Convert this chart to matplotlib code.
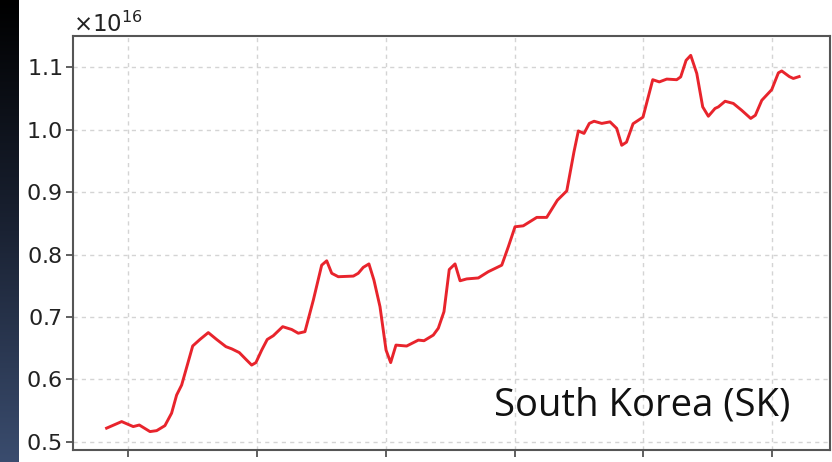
import numpy as np
import matplotlib
matplotlib.use("Agg")
import matplotlib.pyplot as plt
from matplotlib.colors import LinearSegmentedColormap

# time (in tick units) and value (x1e16)
t = [-0.169, -0.052, 0.038, 0.085, 0.168, 0.220, 0.284, 0.336, 0.375, 0.414,
     0.458, 0.500, 0.556, 0.621, 0.686, 0.758, 0.803, 0.862, 0.919, 0.958,
     0.991, 1.036, 1.079, 1.126, 1.199, 1.269, 1.320, 1.372, 1.437, 1.502,
     1.541, 1.580, 1.631, 1.748, 1.786, 1.825, 1.869, 1.908, 1.955, 2.002,
     2.038, 2.079, 2.162, 2.253, 2.297, 2.369, 2.408, 2.452, 2.493, 2.538,
     2.577, 2.629, 2.719, 2.796, 2.901, 2.952, 3.004, 3.068, 3.173, 3.250,
     3.333, 3.406, 3.462, 3.496, 3.540, 3.581, 3.618, 3.678, 3.742, 3.794,
     3.833, 3.870, 3.921, 3.998, 4.074, 4.125, 4.183, 4.260, 4.291, 4.333,
     4.369, 4.416, 4.462, 4.506, 4.558, 4.584, 4.636, 4.700, 4.765, 4.835,
     4.871, 4.921, 4.998, 5.050, 5.076, 5.135, 5.166, 5.211]
vals = [0.522, 0.5325, 0.5245, 0.527, 0.5165, 0.518, 0.526, 0.546, 0.575, 0.591,
        0.623, 0.6536, 0.664, 0.675, 0.664, 0.6525, 0.649, 0.643, 0.631, 0.623,
        0.627, 0.647, 0.664, 0.670, 0.6845, 0.680, 0.674, 0.6765, 0.727, 0.783,
        0.790, 0.770, 0.7645, 0.7655, 0.770, 0.7795, 0.785, 0.759, 0.7165, 0.647,
        0.627, 0.655, 0.6535, 0.663, 0.662, 0.671, 0.682, 0.7085, 0.776, 0.785,
        0.758, 0.761, 0.7625, 0.7725, 0.783, 0.8125, 0.8445, 0.846, 0.8595, 0.8595,
        0.887, 0.902, 0.9645, 0.998, 0.994, 1.010, 1.0135, 1.010, 1.0125, 1.002,
        0.975, 0.980, 1.0095, 1.020, 1.080, 1.0765, 1.081, 1.080, 1.0845, 1.111,
        1.119, 1.090, 1.0365, 1.0215, 1.034, 1.0365, 1.0455, 1.042, 1.031, 1.018,
        1.023, 1.047, 1.064, 1.091, 1.094, 1.085, 1.082, 1.085]
scale = 1e16
xticks = [0, 1, 2, 3, 4, 5]
yticks = [0.5, 0.6, 0.7, 0.8, 0.9, 1.0, 1.1]
label = "South Korea (SK)"

W, H = 832, 462
fig = plt.figure(figsize=(W / 100, H / 100), dpi=100)
fig.patch.set_facecolor("white")

# dark gradient band on the left
band = fig.add_axes([0, 0, 19 / W, 1])
cmap = LinearSegmentedColormap.from_list("band", ["#000000", "#1a2233", "#3a4c6e"])
band.imshow(np.linspace(0, 1, 256).reshape(-1, 1), aspect="auto", cmap=cmap,
            extent=[0, 1, 0, 1], origin="upper")
band.axis("off")

left, right, top, bottom = 73, 830, 36, 450
ax = fig.add_axes([left / W, (H - bottom) / H, (right - left) / W, (bottom - top) / H])
ax.plot(t, np.array(vals) * scale, color="#e8242c", lw=2.1)

ax.set_xlim(-0.430, 5.451)
ax.set_ylim(0.487 * scale, 1.15 * scale)
ax.set_xticks(xticks)
ax.set_yticks([v * scale for v in yticks])
ax.ticklabel_format(axis="y", style="sci", useMathText=True)
ax.tick_params(axis="x", labelbottom=False, direction="out", length=5, width=1.2, color="#444444")
ax.tick_params(axis="y", labelsize=16, direction="out", length=5, width=1.2, color="#444444",
               labelcolor="#222222", pad=3)
ax.yaxis.get_offset_text().set_fontsize(16.5)
ax.yaxis.get_offset_text().set_color("#222222")
ax.grid(True, color="#d4d4d4", linestyle=(0, (3, 3)), linewidth=1.0)
for s in ax.spines.values():
    s.set_color("#555555")
    s.set_linewidth(1.5)

ax.text(0.947, 0.083, label, transform=ax.transAxes, ha="right", va="baseline",
        fontsize=27.5, family=["Open Sans", "DejaVu Sans"], color="#111111")

fig.savefig("out.png", dpi=100)
